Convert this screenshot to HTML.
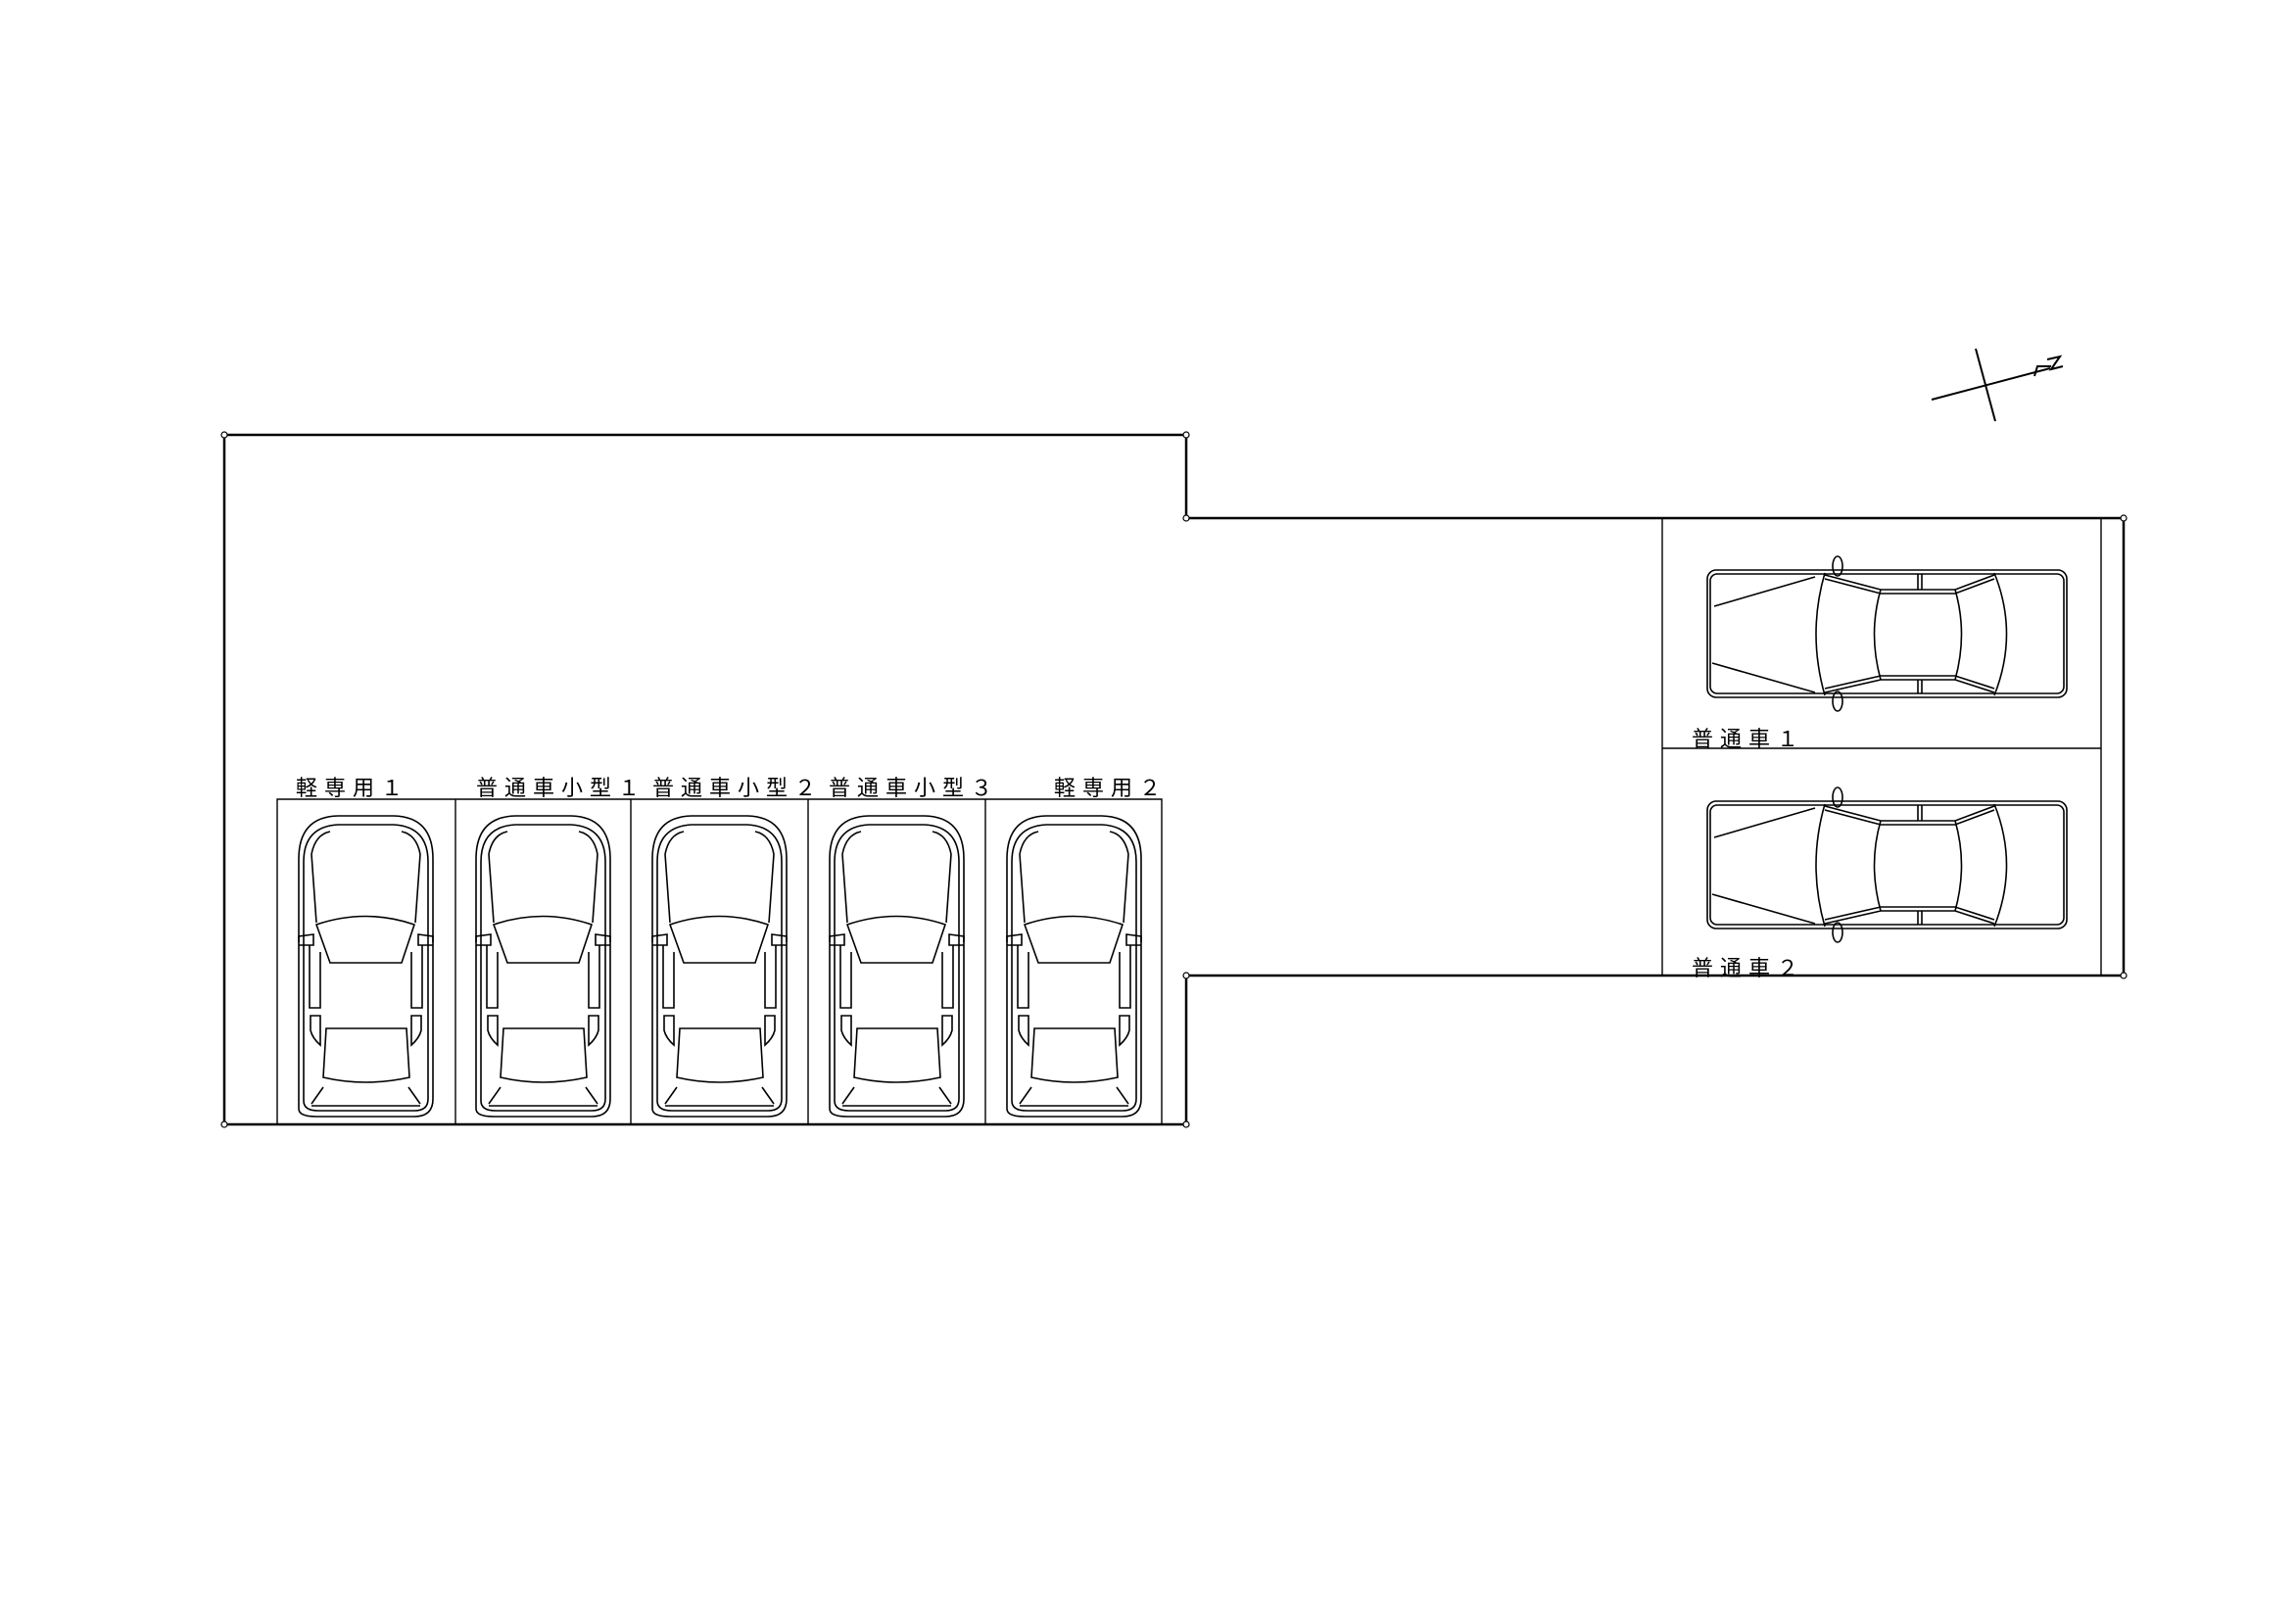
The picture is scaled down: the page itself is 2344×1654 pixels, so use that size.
<!DOCTYPE html>
<html><head><meta charset="utf-8"><style>
html,body{margin:0;padding:0;background:#fff;}
svg{display:block;}
text{font-family:"Liberation Sans","Noto Sans CJK JP",sans-serif;font-size:22px;fill:#000;letter-spacing:7px;}
</style></head><body>
<svg width="2344" height="1654" viewBox="0 0 2344 1654" xmlns="http://www.w3.org/2000/svg">
<defs>
<g id="vcar" fill="none" stroke="#000" stroke-width="1.6">
  <path d="M0,300 L0,45 Q0,2 40,1 L97,1 Q137,2 137,45 L137,290 Q137,308 118,308 L18,308 Q0,308 0,300 Z"/>
  <path d="M5,292 L5,48 Q5,12 40,10 L97,10 Q132,12 132,48 L132,290 Q132,302 118,302 L20,302 Q5,302 5,292 Z"/>
  <path d="M13,40 Q17,20 32,17"/><path d="M124,40 Q120,20 105,17"/>
  <path d="M13,40 L18,110"/><path d="M124,40 L119,110"/>
  <path d="M18,112 L32,151 L105,151 L118,112 Q68,95 18,112 Z"/>
  <path d="M0,130 L0,124 L15,122 L15,133 L0,133"/><path d="M137,130 L137,124 L122,122 L122,133 L137,133"/>
  <path d="M11,133 L11,197 L22,197 L22,140"/><path d="M126,133 L126,197 L115,197 L115,140"/>
  <path d="M12,205 L22,205 L22,235 Q14,228 12,220 Z"/><path d="M125,205 L115,205 L115,235 Q123,228 125,220 Z"/>
  <path d="M28,218 L110,218 L113,268 Q68,278 25,268 Z"/>
  <path d="M25,278 L13,295"/><path d="M112,278 L124,295"/>
  <path d="M13,297 L124,297"/>
</g>
<g id="hcar" fill="none" stroke="#000" stroke-width="1.6">
  <rect x="0" y="0" width="367" height="130" rx="9"/>
  <rect x="3" y="4" width="361" height="122" rx="7"/>
  <path d="M7,37 L110,7"/><path d="M5,95 L110,125"/>
  <path d="M120,3 Q102,65 120,128"/>
  <path d="M177,20 Q164,65 177,112"/>
  <path d="M253,20 Q266,65 253,112"/>
  <path d="M293,3 Q318,65 293,128"/>
  <path d="M120,5 L177,20 L253,20 L293,5"/><path d="M120,9 L177,24 L253,24 L293,9"/>
  <path d="M120,125 L177,112 L253,112 L293,125"/><path d="M120,121 L177,108 L253,108 L293,121"/>
  <path d="M215,4 L215,20 M219,4 L219,20 M215,112 L215,126 M219,112 L219,126"/>
  <ellipse cx="133" cy="-4" rx="5" ry="10"/><ellipse cx="133" cy="134" rx="5" ry="10"/>
</g>
</defs>
<!-- outer lot boundary -->
<polygon points="229,444 1211,444 1211,529 2168,529 2168,996 1211,996 1211,1148 229,1148" fill="none" stroke="#000" stroke-width="2.5"/>
<g fill="#fff" stroke="#000" stroke-width="1.2">
<circle cx="229" cy="444" r="3"/><circle cx="1211" cy="444" r="3"/><circle cx="1211" cy="529" r="3"/><circle cx="2168" cy="529" r="3"/><circle cx="2168" cy="996" r="3"/><circle cx="1211" cy="996" r="3"/><circle cx="1211" cy="1148" r="3"/><circle cx="229" cy="1148" r="3"/>
</g>
<!-- bottom stalls -->
<g fill="none" stroke="#000" stroke-width="1.4">
<path d="M283,1148 L283,816 L1186,816 L1186,1148"/>
<path d="M465,816 L465,1148 M644,816 L644,1148 M825,816 L825,1148 M1006,816 L1006,1148"/>
<path d="M1697,529 L1697,996 M2145,529 L2145,996 M1697,764 L2145,764"/>
</g>
<use href="#vcar" x="305" y="832"/>
<use href="#vcar" x="486" y="832"/>
<use href="#vcar" x="666" y="832"/>
<use href="#vcar" x="847" y="832"/>
<use href="#vcar" x="1028" y="832"/>
<use href="#hcar" x="1743" y="582"/>
<use href="#hcar" x="1743" y="818"/>
<text x="360" y="812" text-anchor="middle">軽専用１</text>
<text x="573" y="812" text-anchor="middle">普通車小型１</text>
<text x="753" y="812" text-anchor="middle">普通車小型２</text>
<text x="933" y="812" text-anchor="middle">普通車小型３</text>
<text x="1134" y="812" text-anchor="middle">軽専用２</text>
<text x="1727" y="762">普通車１</text>
<text x="1727" y="996">普通車２</text>
<!-- north arrow -->
<g fill="none" stroke="#000" stroke-width="2">
<path d="M1972,408 L2093,376"/>
<path d="M2017,356 L2037,430"/>
<path d="M2077,384 L2080,374 L2094,374"/>
<path d="M2090,367 L2103,364 L2094,377 L2106,374"/>
</g>
</svg>
</body></html>
